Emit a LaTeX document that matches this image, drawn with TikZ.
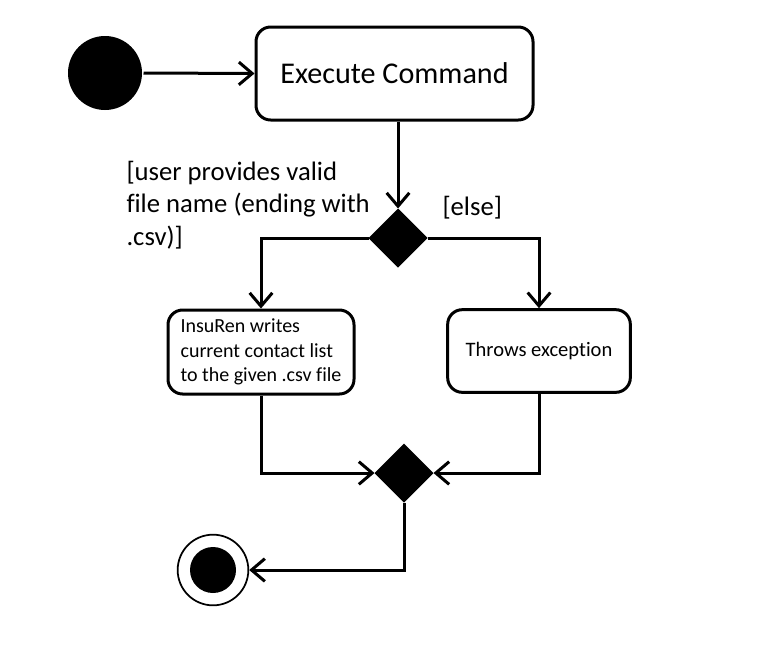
\documentclass[tikz,border=0pt]{standalone}
\usepackage{fontspec}
\setmainfont{Carlito}[Ligatures=NoCommon]
\usetikzlibrary{arrows.meta,shapes.geometric}
\begin{document}
\begin{tikzpicture}[x=0.75pt,y=-0.75pt,line width=2.25pt,
            flow/.style={-{Straight Barb[length=10pt,width=17pt]}},
            action/.style={draw,rounded corners=11pt,inner sep=0pt},
            branch/.style={draw,fill=black,diamond,aspect=1,inner sep=0pt,minimum width=42pt,minimum height=42pt},
            guard/.style={inner sep=0pt,align=left,font=\fontsize{20}{24.4}\selectfont}]
            \useasboundingbox (0,0) rectangle (784,668);
            \node[circle,fill=black,inner sep=0pt,minimum size=55.5pt] (start) at (105,73) {};
            \node[action,minimum width=207.75pt,minimum height=69.75pt,align=center,font=\fontsize{22.6}{27}\selectfont] (exec) at (394.5,73.5) {Execute Command};
            \node[branch] (d1) at (398,238) {};
            \node[action,minimum width=139.5pt,minimum height=63pt,align=left,font=\fontsize{15}{18.2}\selectfont] (write) at (261,352) {InsuRen writes\\current contact list\\to the given .csv file};
            \node[action,minimum width=137pt,minimum height=62pt,align=center,font=\fontsize{15.4}{18.3}\selectfont] (throw) at (539,351) {Throws exception};
            \node[branch] (d2) at (404,473) {};
            \node[circle,draw,fill=white,line width=1.3pt,inner sep=0pt,minimum size=53pt] (stop) at (213,570) {};
            \node[circle,fill=black,inner sep=0pt,minimum size=34.5pt] (stopdot) at (stop) {};
            \node[guard,anchor=west] (valid) at (125,205) {[user provides valid\\file name (ending with\\.csv)]};
            \node[guard,anchor=west] (else) at (441,208) {[else]};
            \draw[flow] (start.east) -- (exec.west);
            \draw[flow] (d1 |- exec.south) -- (d1.north);
            \draw[flow] (d1.west) -| (write.north);
            \draw[flow] (d1.east) -| (throw.north);
            \draw[flow] (write.south) |- (d2.west);
            \draw[flow] (throw.south) |- (d2.east);
            \draw[flow] (d2.south) |- (stop.east);
        \end{tikzpicture}
\end{document}
